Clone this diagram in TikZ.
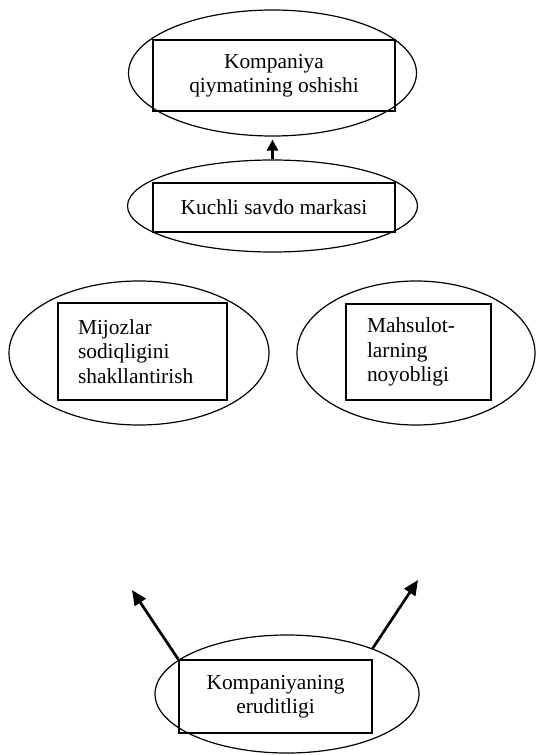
\documentclass[tikz,border=0pt]{standalone}
\usepackage{fontspec}
\setmainfont{Liberation Serif}
\usetikzlibrary{shapes.geometric,arrows.meta}
\begin{document}
\begin{tikzpicture}[x=1pt,y=-1pt,
  oval/.style={draw,ellipse,line width=1.2pt,inner sep=0pt},
  box/.style={draw,rectangle,line width=1.6pt,inner sep=0pt,
    font=\fontsize{21.4}{24.5}\selectfont,align=center},
  lbox/.style={box,align=left},
  arr/.style={line width=2.7pt,-{Triangle[length=15pt,width=13pt]}}]
\useasboundingbox (0,0) rectangle (536,755);

% outer ovals
\node[oval,minimum width=288,minimum height=126] (e1) at (272.5,73) {};
\node[oval,minimum width=290,minimum height=92] (e2) at (272.5,206) {};
\node[oval,minimum width=260,minimum height=144] (e3) at (139,353) {};
\node[oval,minimum width=238,minimum height=144] (e4) at (416,353) {};
\node[oval,minimum width=264,minimum height=118] (e5) at (287,694) {};

% labelled boxes
\node[box,minimum width=242,minimum height=71] (b1) at (274,75.5)
  {Kompaniya\\qiymatining oshishi};
\node[box,minimum width=242,minimum height=49] (b2) at (274,207.5)
  {Kuchli savdo markasi};
\node[lbox,text width=129pt,inner xsep=20pt,minimum height=97] (b3) at (142.5,351.5)
  {Mijozlar\\sodiqligini\\shakllantirish};
\node[lbox,text width=103pt,inner xsep=21pt,minimum height=96] (b4) at (418.5,352)
  {Mahsulot-\\larning\\noyobligi};
\node[box,minimum width=193,minimum height=73] (b5) at (275.5,696.5)
  {Kompaniyaning\\eruditligi};

% connectors
\draw[line width=2.4pt,-{Triangle[length=11pt,width=11pt]},shorten >=3pt]
  (e2.north) -- (e1.south);
\coordinate (tl) at (132,590);
\coordinate (tr) at (418,580);
\draw[arr] (b5.north west) -- (tl);
\draw[arr] (e5.28) -- (tr);
\end{tikzpicture}
\end{document}
